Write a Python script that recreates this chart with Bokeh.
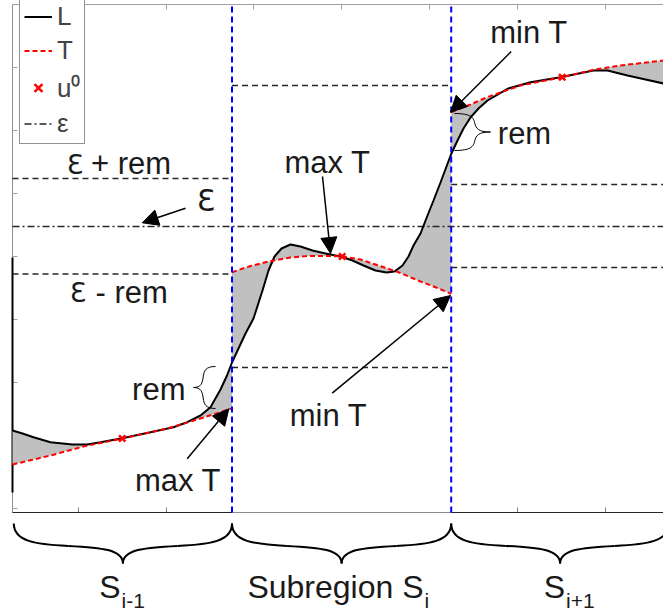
from bokeh.plotting import figure
from bokeh.models import (Range1d, LinearAxis, FixedTicker, Legend, LegendItem,
                          Arrow, NormalHead, ColumnDataSource)
from bokeh.core.properties import value
from bokeh.embed import file_html
from bokeh.resources import INLINE

FONT = "Liberation Sans"
EPS_FONT = "DejaVu Sans"

# ---------------- data ----------------
# subregion boundaries on the x axis
bounds_x = [0.0, 219.5, 438.7, 651.0]

# objective L (black solid)
L_x = [0, 10, 21, 38, 59.7, 74.7, 88, 109.7, 138, 161, 174.7, 188, 198, 208, 214.5,
       219.5, 226, 233, 241, 250, 256, 262, 269, 278, 288, 300, 313, 328, 340, 351,
       363, 374, 382, 390, 396, 401, 408, 415, 421, 428, 434, 438.7, 445, 451, 458,
       466, 475, 495, 518, 548, 581, 595, 615, 633, 651]
L_y = [82, 79, 75.3, 70.3, 68, 68, 70.3, 74.3, 80.3, 85.3, 90.3, 97, 105.3, 123, 137,
       150, 164, 179, 194, 222, 242, 256, 264, 268, 266, 262, 259, 256, 252, 247,
       242, 240, 241, 247, 256, 267, 279, 297, 312, 330, 346, 358.5, 372, 384, 395,
       404, 412, 423.7, 430.3, 435.3, 442, 442, 437, 433, 429]

# surrogate T (red dashed), one piece per subregion
T1_x = [0, 38, 71, 109.7, 155, 188, 219.5]
T1_y = [48, 57, 66, 74, 84, 94, 104]
T2_x = [219.5, 238, 258, 278, 296, 318, 329.7, 348, 375, 388, 408, 425, 438.7]
T2_y = [240.3, 246.5, 251.5, 255, 256.5, 256.5, 256, 253, 244, 239.5, 231, 224.5, 218.7]
T3_x = [438.7, 458, 474.7, 508, 549.7, 581, 608, 651]
T3_y = [400.3, 408, 415.3, 427, 435.3, 442.7, 447, 452]

# expansion points u0
u0_x = [109.7, 329.7, 549.7]
u0_y = [74.0, 256.0, 435.3]

# epsilon level and the +/- rem bands per subregion
eps_level = 286.0
band_hi = [334.0, 427.0, 328.0]
band_lo = [238.5, 145.0, 245.0]

# axis ticks (no labels)
x_ticks_top = [66.2, 153.8, 240.9, 328.8, 417.2, 504.7, 592.7]
x_ticks_bottom = [66.2, 153.8, 504.7, 592.7]
y_ticks = [4, 67, 130, 193, 256, 319, 382, 445]
axis_top = 508.0
axis_dark_span = [20.0, 255.0]

# annotation arrows
arrow_xs = [173, 310, 319.7, 174.7, 498.7]
arrow_ys = [304.3, 336, 119.3, 53.7, 461]
arrow_xe = [129.7, 318, 438, 216.3, 438]
arrow_ye = [289.7, 259, 217, 103.7, 400.3]

# annotation texts (y = middle of the text line)
ann_text = ["max T", "min T", "max T", "min T", "rem", "rem"]
ann_x = [315, 316, 165.5, 516.5, 146.3, 512]
ann_y = [350, 97, 32, 480.3, 122.7, 378.7]

# epsilon band labels
band_lab_text = ["+ rem", "- rem"]
band_lab_x = [78.5, 83]
band_lab_y = [349, 220]
band_eps_x = [62.5, 65.5]
band_eps_y = [348.5, 219.8]
eps_text = ["\u0190"]
eps_x = [193.5]
eps_y = [312.5]

# "rem" braces (vertical)
rem_brace_x = [203.0, 442.0]
rem_brace_ya = [146.0, 399.0]
rem_brace_yb = [104.0, 362.0]
rem_brace_depth = [-22.0, 36.0]

# subregion braces (horizontal, under the axis)
sub_brace_x0 = [1.3, 219.5, 438.7]
sub_brace_x1 = [219.5, 438.7, 656.5]
sub_brace_top = -11.0
sub_brace_depth = -40.0

sub_main = ["S", "Subregion S", "S"]
sub_index = ["i-1", "i", "i+1"]
sub_anchor_x = [108.0, 411.0, 552.5]
sub_main_y = -74.5
sub_index_y = -87.6

# ---------------- figure ----------------
W, H = 663, 613
p = figure(width=W, height=H, x_range=Range1d(-12, 651), y_range=Range1d(-101, 512),
           x_axis_type=None, y_axis_type=None, toolbar_location=None,
           output_backend="svg", min_border=0, outline_line_color=None,
           background_fill_color="white", border_fill_color="white")
p.xgrid.visible = False
p.ygrid.visible = False


def make_axis(loc, bounds, ticks, color, line_color):
    return LinearAxis(fixed_location=loc, bounds=bounds, level="underlay",
                      ticker=FixedTicker(ticks=ticks, minor_ticks=[]),
                      major_tick_in=5, major_tick_out=0,
                      minor_tick_in=0, minor_tick_out=0,
                      major_label_overrides={t: "" for t in ticks},
                      major_label_text_font_size="1px",
                      axis_line_color=line_color, axis_line_width=1,
                      major_tick_line_color=color, major_tick_line_width=1)


p.add_layout(make_axis(0, (0, 651), x_ticks_bottom, "#808080", "#8c8c8c"), "below")
p.add_layout(make_axis(axis_top, (0, 651), x_ticks_top, "#a0a0a0", "#a0a0a0"), "above")
p.add_layout(make_axis(0, (0, axis_top), y_ticks, "#a0a0a0", "#909090"), "left")
p.segment(x0=[0], y0=[axis_dark_span[0]], x1=[0], y1=[axis_dark_span[1]],
          line_color="black", line_width=2)
# darker stretches of the bottom axis line (outer subregions)
p.segment(x0=[bounds_x[0], bounds_x[2]], y0=[0, 0], x1=[bounds_x[1], bounds_x[3]], y1=[0, 0],
          line_color="#262626", line_width=1.2)

# gray areas between L and T within each subregion
T_pieces = [(T1_x, T1_y), (T2_x, T2_y), (T3_x, T3_y)]
for i, (tx, ty) in enumerate(T_pieces):
    a, b = bounds_x[i], bounds_x[i + 1]
    lx = [x for x in L_x if a <= x <= b]
    ly = [y for x, y in zip(L_x, L_y) if a <= x <= b]
    p.patch(lx + tx[::-1], ly + ty[::-1], fill_color="#c0c0c0", line_color=None)

# horizontal level lines
for i in range(3):
    a, b = bounds_x[i], bounds_x[i + 1]
    p.segment(x0=[a, a], y0=[band_hi[i], band_lo[i]], x1=[b, b], y1=[band_hi[i], band_lo[i]],
              line_color="#262626", line_width=1.5, line_dash="6 4")
eps_r = p.line([bounds_x[0], bounds_x[-1]], [eps_level, eps_level],
               line_color="#262626", line_width=1.5, line_dash="7 3 2 3")

# L and T
L_r = p.line(L_x, L_y, line_color="black", line_width=2)
T_rs = [p.line(tx, ty, line_color="#ff0000", line_width=2, line_dash="5 3")
        for tx, ty in T_pieces]

# subregion boundaries
p.segment(x0=bounds_x[1:3], y0=[0, 0], x1=bounds_x[1:3], y1=[axis_top, axis_top],
          line_color="#0000ff", line_width=2, line_dash="6 4")

u0_r = p.scatter(u0_x, u0_y, marker="x", size=9, line_width=2.5, color="#ff0000")

# arrows
asrc = ColumnDataSource(dict(xs=arrow_xs, ys=arrow_ys, xe=arrow_xe, ye=arrow_ye))
p.add_layout(Arrow(end=NormalHead(size=16, fill_color="black", line_color="black", line_width=1),
                   x_start="xs", y_start="ys", x_end="xe", y_end="ye",
                   line_width=1.5, line_color="black", source=asrc))

# texts
TXT = "#1a1a1a"
p.text(ann_x, ann_y, text=ann_text, text_align="center", text_baseline="middle",
       text_font=value(FONT), text_font_size=value("31px"), text_color=TXT)
p.text(band_lab_x, band_lab_y, text=band_lab_text, text_align="left", text_baseline="middle",
       text_font=value(FONT), text_font_size=value("31px"), text_color=TXT)
p.text(band_eps_x, band_eps_y, text=["\u0190", "\u0190"], text_align="center",
       text_baseline="middle", text_font=value(EPS_FONT), text_font_size=value("27px"),
       text_color=TXT)
p.text(eps_x, eps_y, text=eps_text, text_align="center", text_baseline="middle",
       text_font=value(EPS_FONT), text_font_size=value("30px"), text_color=TXT)


# braces
def brace(a0, a1, base, depth):
    """Curly brace along coordinate a0->a1; bezier params as (along, across)."""
    h = (a1 - a0) / 2.0
    am = a0 + h
    segs = []
    for s, e in ((a0, 1.0), (a1, -1.0)):
        hh = h * e
        P0 = (s, base)
        Pm = (s + 0.5 * hh, base + 0.56 * depth)
        segs.append((P0, Pm, (s, base + 0.45 * depth), (s + 0.2 * hh, base + 0.52 * depth)))
        segs.append((Pm, (am, base + depth), (s + 0.8 * hh, base + 0.60 * depth),
                     (am, base + 0.65 * depth)))
    return segs


def add_beziers(segs, horizontal, width):
    d = dict(x0=[], y0=[], x1=[], y1=[], cx0=[], cy0=[], cx1=[], cy1=[])
    for (P0, P1, C0, C1) in segs:
        pts = [P0, P1, C0, C1]
        if not horizontal:
            pts = [(q[1], q[0]) for q in pts]
        for key, q in zip((("x0", "y0"), ("x1", "y1"), ("cx0", "cy0"), ("cx1", "cy1")), pts):
            d[key[0]].append(q[0])
            d[key[1]].append(q[1])
    p.bezier(source=ColumnDataSource(d), x0="x0", y0="y0", x1="x1", y1="y1",
             cx0="cx0", cy0="cy0", cx1="cx1", cy1="cy1", line_color="black", line_width=width)


segs = []
for a0, a1 in zip(sub_brace_x0, sub_brace_x1):
    segs += brace(a0, a1, sub_brace_top, sub_brace_depth)
add_beziers(segs, True, 2)

segs = []
for x, ya, yb, dd in zip(rem_brace_x, rem_brace_ya, rem_brace_yb, rem_brace_depth):
    segs += brace(ya, yb, x, dd)
add_beziers(segs, False, 1)

# subregion labels
p.text(sub_anchor_x, [sub_main_y] * 3, text=sub_main, text_align="right", text_baseline="middle",
       text_font=value(FONT), text_font_size=value("32px"), text_color=TXT)
p.text([a + 1 for a in sub_anchor_x], [sub_index_y] * 3, text=sub_index, text_align="left",
       text_baseline="middle", text_font=value(FONT), text_font_size=value("21px"),
       text_color=TXT)

# legend
legend = Legend(items=[LegendItem(label="L", renderers=[L_r]),
                       LegendItem(label="T", renderers=[T_rs[0]]),
                       LegendItem(label="u\u2070", renderers=[u0_r]),
                       LegendItem(label="\u03b5", renderers=[eps_r])],
                location=(19, H - 144), border_line_color="#262626", border_line_width=1,
                background_fill_color="white", background_fill_alpha=1.0,
                label_text_font=FONT, label_text_font_size="26px",
                label_text_line_height=1.0,
                glyph_width=28, glyph_height=31, label_height=31, label_standoff=5,
                spacing=3, padding=4, margin=0)
p.add_layout(legend)

open("out.html", "w").write(file_html(p, INLINE))
